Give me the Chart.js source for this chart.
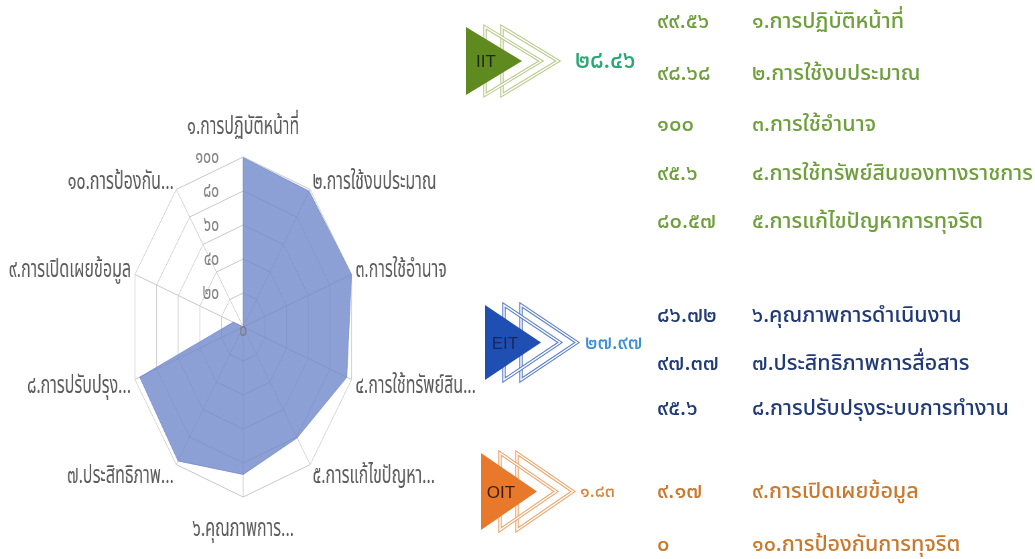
<!DOCTYPE html>
<html>
<head>
<meta charset="utf-8">
<script src="https://cdn.jsdelivr.net/npm/chart.js@4.4.0/dist/chart.umd.min.js"></script>
<style>
html, body { margin: 0; padding: 0; background: #fff; }
#wrap { position: relative; width: 1035px; height: 559px; overflow: hidden; }
#radar { position: absolute; left: 0; top: 0; transform: scaleX(0.67); transform-origin: 0 0; }
#shapes { position: absolute; left: 0; top: 0; }
.t { position: absolute; white-space: nowrap; font-family: "Noto Sans Thai", Tahoma, sans-serif; line-height: 1; transform: translateY(-50%); }
</style>
</head>
<body>
<div id="wrap">
  <canvas id="radar" width="726" height="559"></canvas>
  <svg id="shapes" width="1035" height="559"></svg>
</div>
<script>
//-------------------
// data
//-------------------
var categories = [
    "๑.การปฏิบัติหน้าที่", "๒.การใช้งบประมาณ", "๓.การใช้อำนาจ",
    "๔.การใช้ทรัพย์สินของทางราชการ", "๕.การแก้ไขปัญหาการทุจริต",
    "๖.คุณภาพการดำเนินงาน", "๗.ประสิทธิภาพการสื่อสาร", "๘.การปรับปรุงระบบการทำงาน",
    "๙.การเปิดเผยข้อมูล", "๑๐.การป้องกันการทุจริต"
];
var axisLabels = [
    "๑.การปฏิบัติหน้าที่", "๒.การใช้งบประมาณ", "๓.การใช้อำนาจ",
    "๔.การใช้ทรัพย์สิน...", "๕.การแก้ไขปัญหา...", "๖.คุณภาพการ...",
    "๗.ประสิทธิภาพ...", "๘.การปรับปรุง...", "๙.การเปิดเผยข้อมูล", "๑๐.การป้องกัน..."
];
var scores = [99.56, 98.68, 100, 95.6, 80.57, 86.72, 97.37, 95.6, 9.17, 0];
var groupNames = ["IIT", "EIT", "OIT"];
var groupTotals = [28.46, 27.97, 1.83];
var groupOf = [0, 0, 0, 0, 0, 1, 1, 1, 2, 2];
var tickValues = [0, 20, 40, 60, 80, 100];

function thaiDigits(n) {
    return String(n).replace(/\d/g, function (d) { return "๐๑๒๓๔๕๖๗๘๙"[d]; });
}

//-------------------
// radar labels + ticks (drawn with the scale's own geometry)
//-------------------
var labelFont = '24px "Noto Sans Thai", Tahoma, sans-serif';
var tickFont = '21px "Noto Sans Thai", Tahoma, sans-serif';

var radarText = {
    id: 'radarText',
    afterDatasetsDraw: function (chart) {
        var scale = chart.scales.r;
        var ctx = chart.ctx;
        var r = scale.drawingArea;
        ctx.save();

        // tick labels left of the vertical axis
        ctx.font = tickFont;
        ctx.fillStyle = "#7f7f7f";
        ctx.textBaseline = "middle";
        tickValues.forEach(function (v) {
            var y = scale.yCenter - scale.getDistanceFromCenterForValue(v);
            if (v === 0) {
                ctx.textAlign = "center";
                ctx.fillText(thaiDigits(v), scale.xCenter, y + 5);
            } else {
                ctx.textAlign = "right";
                ctx.fillText(thaiDigits(v), scale.xCenter - 36, y + 2);
            }
        });

        // point labels
        ctx.font = labelFont;
        ctx.fillStyle = "#595959";
        for (var i = 0; i < axisLabels.length; i++) {
            var p = scale.getPointPosition(i, r + 6);
            var dx = p.x - scale.xCenter;
            var dy = p.y - scale.yCenter;
            if (Math.abs(dx) < 2) {
                ctx.textAlign = "center";
                ctx.fillText(axisLabels[i], p.x, dy < 0 ? p.y - 22 : p.y + 28);
            } else {
                ctx.textAlign = dx > 0 ? "left" : "right";
                ctx.fillText(axisLabels[i], p.x, p.y + (dy > 0 ? 6 + dy * 0.02 : 0));
            }
        }
        ctx.restore();
    }
};

var chart = new Chart(document.getElementById('radar').getContext('2d'), {
    type: 'radar',
    data: {
        labels: axisLabels,
        datasets: [{
            data: scores,
            backgroundColor: 'rgba(112,136,204,0.8)',
            borderColor: 'rgba(112,136,204,0.8)',
            borderWidth: 1,
            pointRadius: 0,
            fill: true
        }]
    },
    options: {
        responsive: false,
        animation: false,
        devicePixelRatio: 1,
        layout: { padding: { top: 157, bottom: 62, left: 100, right: 100 } },
        plugins: { legend: { display: false }, tooltip: { enabled: false } },
        scales: {
            r: {
                min: 0,
                max: 100,
                ticks: { stepSize: 20, display: false },
                grid: { color: '#c8c8c8', lineWidth: 1 },
                angleLines: { color: '#c8c8c8', lineWidth: 1 },
                pointLabels: { display: false }
            }
        }
    },
    plugins: [radarText]
});

//-------------------
// right-hand panel
//-------------------
var groupStyle = [
    { left: 466, top: 27, bottom: 95, fill: '#5f8a1f', line: '#b9c98a', mark: '#1e2a10', total: '#2aa873', text: '#6e9f3c', totalX: 575, totalSize: 24 },
    { left: 485, top: 305, bottom: 380, fill: '#1f4fb3', line: '#5b7fcc', mark: '#15295e', total: '#3c8fd4', text: '#203a78', totalX: 585, totalSize: 20 },
    { left: 481, top: 453, bottom: 530, fill: '#e8782a', line: '#eea56a', mark: '#3a1e08', total: '#d9863c', text: '#c9782e', totalX: 580, totalSize: 18 }
];
var rowY = [22, 74, 125, 174, 222, 316, 364, 409, 492, 545];

var wrap = document.getElementById('wrap');
var svg = document.getElementById('shapes');
var svgHtml = "";

function tri(l, t, b, tip) {
    return l + "," + t + " " + l + "," + b + " " + tip + "," + ((t + b) / 2);
}

function addText(txt, x, y, size, color, weight) {
    var d = document.createElement('div');
    d.className = 't';
    d.style.left = x + 'px';
    d.style.top = y + 'px';
    d.style.fontSize = size + 'px';
    d.style.color = color;
    if (weight) d.style.fontWeight = weight;
    d.textContent = txt;
    wrap.appendChild(d);
}

groupNames.forEach(function (name, g) {
    var s = groupStyle[g];
    var mid = (s.top + s.bottom) / 2;
    [36, 19].forEach(function (off) {
        var pts = tri(s.left + off, s.top, s.bottom, s.left + off + 56);
        svgHtml += '<polygon points="' + pts + '" fill="none" stroke="' + s.line + '" stroke-width="3.5"/>';
        svgHtml += '<polygon points="' + pts + '" fill="none" stroke="#fff" stroke-width="1.4"/>';
    });
    svgHtml += '<polygon points="' + tri(s.left, s.top, s.bottom, s.left + 56) + '" fill="' + s.fill + '"/>';
    svgHtml += '<text x="' + (s.left + 20) + '" y="' + (mid + 6) + '" font-family="Arial, Liberation Sans, sans-serif" font-size="17" text-anchor="middle" fill="' + s.mark + '">' + name + '</text>';
    addText(thaiDigits(groupTotals[g]), s.totalX, mid, s.totalSize, s.total, 500);
});
svg.innerHTML = svgHtml;

categories.forEach(function (c, i) {
    var s = groupStyle[groupOf[i]];
    addText(thaiDigits(scores[i]), 657, rowY[i], 22, s.text, 500);
    addText(c, 752, rowY[i], 21.5, s.text, 500);
});
</script>
</body>
</html>
